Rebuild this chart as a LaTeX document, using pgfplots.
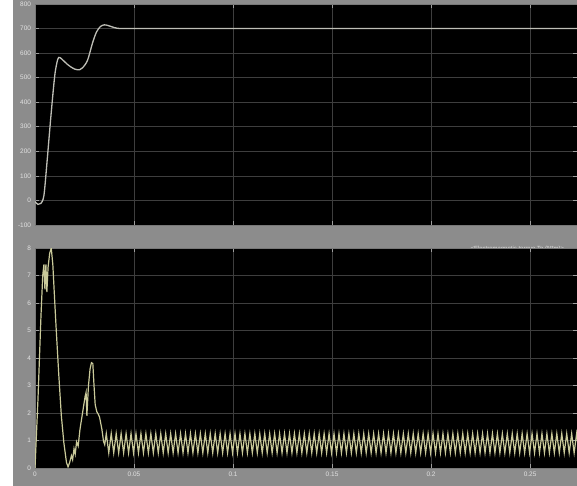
\documentclass[border=0pt]{standalone}
\usepackage{pgfplots}
\pgfplotsset{compat=1.18}
\usepackage{fontspec}
\setmainfont{Liberation Sans}
\definecolor{bg}{HTML}{8C8C8C}
\definecolor{gridc}{HTML}{3E3E3E}
\definecolor{tlab}{HTML}{E2E2E2}
\definecolor{spd}{HTML}{BEBEB6}
\definecolor{trq}{HTML}{CACA9A}
\pgfplotsset{
  scopestyle/.style={
    scale only axis, width=542bp, xmin=0, xmax=0.2737,
    axis background/.style={fill=black},
    axis line style={draw=gridc!70!white, line width=0.6bp},
    grid=major, major grid style={draw=gridc, line width=0.7bp},
    tick style={draw=tlab!70!black, line width=0.6bp},
    major tick length=4bp,
    xtick={0,0.05,0.1,0.15,0.2,0.25},
    tick label style={font=\fontsize{6.5}{7}\selectfont, text=tlab},
    /pgf/number format/assume math mode=true,
    /pgf/number format/fixed,
    yticklabel style={xshift=-0.5bp},
    clip=true,
  }
}
\begin{document}
\begin{tikzpicture}[x=1bp,y=1bp]
\useasboundingbox (0,0) rectangle (577,486);
\clip (0,0) rectangle (577,486);
\fill[bg] (0,0) rectangle (577,486);
\fill[white] (0,0) rectangle (13,486);
\begin{axis}[scopestyle, at={(35bp,261bp)}, anchor=south west, height=221bp,
  ymin=-100, ymax=800, ytick={-100,0,100,200,300,400,500,600,700,800},
  xticklabels={}]
\addplot[spd, line width=1.3bp, smooth, tension=0.5] coordinates {
(0,-5) (0.0015,-16) (0.003,-12) (0.0045,20) (0.006,150) (0.008,340) (0.010,510)
(0.0115,575) (0.0125,582) (0.014,572) (0.017,550) (0.020,535) (0.0225,532)
(0.024,540) (0.0265,570) (0.029,640) (0.031,685) (0.033,708) (0.035,715)
(0.037,712) (0.040,704) (0.043,700) (0.050,700) (0.1,700) (0.2,700) (0.274,700)};
\end{axis}
\node[anchor=west, text=tlab, font=\fontsize{6}{7}\selectfont] at (467,237) {<Electromagnetic torque Te (N*m)>};
\begin{axis}[scopestyle, at={(35bp,18bp)}, anchor=south west, height=220bp,
  ymin=0, ymax=8, ytick={0,1,2,3,4,5,6,7,8},
  xticklabels={0,0.05,0.1,0.15,0.2,0.25}]
\addplot[trq, line width=1.2bp] coordinates {
(0,0) (0.0015,2.5) (0.003,5.5) (0.0039,7.0) (0.0045,7.4) (0.0050,6.5) (0.0055,7.4)
(0.0060,6.4) (0.0066,7.3) (0.0074,7.8) (0.0082,8.0) (0.0090,7.4) (0.0100,6.0)
(0.0107,5.05) (0.0120,3.4) (0.0133,1.9) (0.0146,0.9) (0.0159,0.2) (0.0167,0.04)
(0.0175,0.2) (0.0184,0.45) (0.0190,0.3) (0.0197,0.7) (0.0203,0.5) (0.0210,0.95)
(0.0218,0.8) (0.0227,1.4) (0.0240,2.0) (0.0253,2.6) (0.0258,2.75) (0.0262,1.9)
(0.0270,3.0) (0.0278,3.6) (0.0285,3.83) (0.0292,3.8) (0.0298,3.0) (0.0304,2.3)
(0.0312,2.05) (0.0320,1.95) (0.0326,1.85) (0.0338,1.4) (0.0346,0.97) (0.0352,0.85)
(0.03600,1.25) (0.03725,0.55) (0.03850,1.25) (0.03975,0.55) (0.04100,1.25) (0.04225,0.55)
(0.04350,1.25) (0.04475,0.55) (0.04600,1.25) (0.04725,0.55) (0.04850,1.25) (0.04975,0.55)
(0.05100,1.25) (0.05225,0.55) (0.05350,1.25) (0.05475,0.55) (0.05600,1.25) (0.05725,0.55)
(0.05850,1.25) (0.05975,0.55) (0.06100,1.25) (0.06225,0.55) (0.06350,1.25) (0.06475,0.55)
(0.06600,1.25) (0.06725,0.55) (0.06850,1.25) (0.06975,0.55) (0.07100,1.25) (0.07225,0.55)
(0.07350,1.25) (0.07475,0.55) (0.07600,1.25) (0.07725,0.55) (0.07850,1.25) (0.07975,0.55)
(0.08100,1.25) (0.08225,0.55) (0.08350,1.25) (0.08475,0.55) (0.08600,1.25) (0.08725,0.55)
(0.08850,1.25) (0.08975,0.55) (0.09100,1.25) (0.09225,0.55) (0.09350,1.25) (0.09475,0.55)
(0.09600,1.25) (0.09725,0.55) (0.09850,1.25) (0.09975,0.55) (0.10100,1.25) (0.10225,0.55)
(0.10350,1.25) (0.10475,0.55) (0.10600,1.25) (0.10725,0.55) (0.10850,1.25) (0.10975,0.55)
(0.11100,1.25) (0.11225,0.55) (0.11350,1.25) (0.11475,0.55) (0.11600,1.25) (0.11725,0.55)
(0.11850,1.25) (0.11975,0.55) (0.12100,1.25) (0.12225,0.55) (0.12350,1.25) (0.12475,0.55)
(0.12600,1.25) (0.12725,0.55) (0.12850,1.25) (0.12975,0.55) (0.13100,1.25) (0.13225,0.55)
(0.13350,1.25) (0.13475,0.55) (0.13600,1.25) (0.13725,0.55) (0.13850,1.25) (0.13975,0.55)
(0.14100,1.25) (0.14225,0.55) (0.14350,1.25) (0.14475,0.55) (0.14600,1.25) (0.14725,0.55)
(0.14850,1.25) (0.14975,0.55) (0.15100,1.25) (0.15225,0.55) (0.15350,1.25) (0.15475,0.55)
(0.15600,1.25) (0.15725,0.55) (0.15850,1.25) (0.15975,0.55) (0.16100,1.25) (0.16225,0.55)
(0.16350,1.25) (0.16475,0.55) (0.16600,1.25) (0.16725,0.55) (0.16850,1.25) (0.16975,0.55)
(0.17100,1.25) (0.17225,0.55) (0.17350,1.25) (0.17475,0.55) (0.17600,1.25) (0.17725,0.55)
(0.17850,1.25) (0.17975,0.55) (0.18100,1.25) (0.18225,0.55) (0.18350,1.25) (0.18475,0.55)
(0.18600,1.25) (0.18725,0.55) (0.18850,1.25) (0.18975,0.55) (0.19100,1.25) (0.19225,0.55)
(0.19350,1.25) (0.19475,0.55) (0.19600,1.25) (0.19725,0.55) (0.19850,1.25) (0.19975,0.55)
(0.20100,1.25) (0.20225,0.55) (0.20350,1.25) (0.20475,0.55) (0.20600,1.25) (0.20725,0.55)
(0.20850,1.25) (0.20975,0.55) (0.21100,1.25) (0.21225,0.55) (0.21350,1.25) (0.21475,0.55)
(0.21600,1.25) (0.21725,0.55) (0.21850,1.25) (0.21975,0.55) (0.22100,1.25) (0.22225,0.55)
(0.22350,1.25) (0.22475,0.55) (0.22600,1.25) (0.22725,0.55) (0.22850,1.25) (0.22975,0.55)
(0.23100,1.25) (0.23225,0.55) (0.23350,1.25) (0.23475,0.55) (0.23600,1.25) (0.23725,0.55)
(0.23850,1.25) (0.23975,0.55) (0.24100,1.25) (0.24225,0.55) (0.24350,1.25) (0.24475,0.55)
(0.24600,1.25) (0.24725,0.55) (0.24850,1.25) (0.24975,0.55) (0.25100,1.25) (0.25225,0.55)
(0.25350,1.25) (0.25475,0.55) (0.25600,1.25) (0.25725,0.55) (0.25850,1.25) (0.25975,0.55)
(0.26100,1.25) (0.26225,0.55) (0.26350,1.25) (0.26475,0.55) (0.26600,1.25) (0.26725,0.55)
(0.26850,1.25) (0.26975,0.55) (0.27100,1.25) (0.27225,0.55) (0.27350,1.25) (0.27475,0.55)};
\end{axis}
\end{tikzpicture}
\end{document}
